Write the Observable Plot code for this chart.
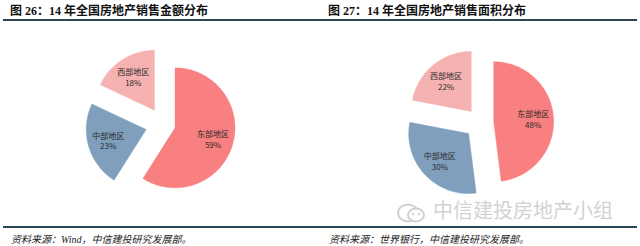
<!DOCTYPE html>
<html><head><meta charset="utf-8">
<script src="https://cdn.jsdelivr.net/npm/d3@7"></script>
<script src="https://cdn.jsdelivr.net/npm/@observablehq/plot@0.6"></script>
<style>
body{margin:0;background:#fff;}
#wrap{position:relative;width:640px;height:246px;overflow:hidden;font-family:"Liberation Serif","Noto Sans CJK SC",serif;}
.title{position:absolute;top:1px;font-size:12px;font-weight:bold;color:#111;white-space:nowrap;}
.rule{position:absolute;left:3px;width:634px;height:2px;background:#2d4756;}
.src{position:absolute;top:231px;font-size:10px;font-style:italic;color:#222;white-space:nowrap;}
.panel{position:absolute;top:24px;}
#wm{position:absolute;left:395px;top:198px;color:#d2d2d2;font-family:"Noto Sans CJK SC",sans-serif;font-size:20px;line-height:24px;white-space:nowrap;z-index:5;}
#wm svg{vertical-align:middle;margin-right:4px;}
</style></head>
<body>
<div id="wrap">
  <div class="title" style="left:10px">图 26：14 年全国房地产销售金额分布</div>
  <div class="title" style="left:328px">图 27：14 年全国房地产销售面积分布</div>
  <div class="rule" style="top:19px"></div>
  <div id="p1" class="panel" style="left:0px"></div>
  <div id="p2" class="panel" style="left:320px"></div>
  <div class="rule" style="top:226px;height:1.5px"></div>
  <div class="src" style="left:11px">资料来源：Wind，中信建投研究发展部。</div>
  <div class="src" style="left:329px">资料来源：世界银行，中信建投研究发展部。</div>
  <div id="wm"><svg width="34" height="22" viewBox="0 0 34 22"><ellipse cx="13" cy="11" rx="10" ry="8.5" fill="none" stroke="#d2d2d2" stroke-width="2"/><ellipse cx="21" cy="13" rx="8" ry="6.5" fill="#fff" stroke="#d2d2d2" stroke-width="2"/><circle cx="18" cy="12" r="1.2" fill="#d2d2d2"/><circle cx="24" cy="12" r="1.2" fill="#d2d2d2"/></svg>中信建投房地产小组</div>
</div>
<script>
const regions = ["东部地区", "中部地区", "西部地区"];
const amountShare = [59, 23, 18];
const areaShare = [48, 30, 22];
const colors = ["#f98080", "#7f9fbd", "#f5b2b1"];

function pie(target, values, explode, cx, cy) {
  const W = 320, H = 196, R = 60;
  const total = d3.sum(values);
  const pts = [], labels = [];
  let a = 0;
  values.forEach((v, i) => {
    const a0 = a, a1 = a + (v / total) * 2 * Math.PI;
    a = a1;
    const mid = (a0 + a1) / 2;
    const e = explode[i];
    const ox = e * Math.sin(mid), oy = e * Math.cos(mid);
    pts.push({name: regions[i], x: ox, y: oy});
    const n = Math.max(2, Math.ceil((a1 - a0) / 0.03));
    for (let k = 0; k <= n; k++) {
      const t = a0 + (a1 - a0) * k / n;
      pts.push({name: regions[i], x: ox + Math.sin(t), y: oy + Math.cos(t)});
    }
    pts.push({name: regions[i], x: ox, y: oy});
    const lr = e + 0.66;
    labels.push({x: lr * Math.sin(mid), y: lr * Math.cos(mid), text: regions[i] + "\n" + v + "%"});
  });
  const chart = Plot.plot({
    width: W, height: H, margin: 0,
    x: {domain: [-cx / R, (W - cx) / R], axis: null},
    y: {domain: [-(H - cy) / R, cy / R], axis: null},
    color: {domain: regions, range: colors},
    style: {background: "transparent"},
    marks: [
      Plot.line(pts, {x: "x", y: "y", z: "name", fill: "name", stroke: "name", strokeWidth: 0.6, strokeOpacity: 0.6, curve: "linear"}),
      Plot.text(labels, {x: "x", y: "y", text: "text", fontSize: 8, fill: "#2a2a2a", lineHeight: 1.35, fontFamily: "Noto Sans CJK SC"})
    ]
  });
  document.getElementById(target).appendChild(chart);
}

pie("p1", amountShare, [0.2, 0.3, 0.28], 163, 100);
pie("p2", areaShare, [0.22, 0.27, 0.24], 160, 98);
</script>
</body></html>
